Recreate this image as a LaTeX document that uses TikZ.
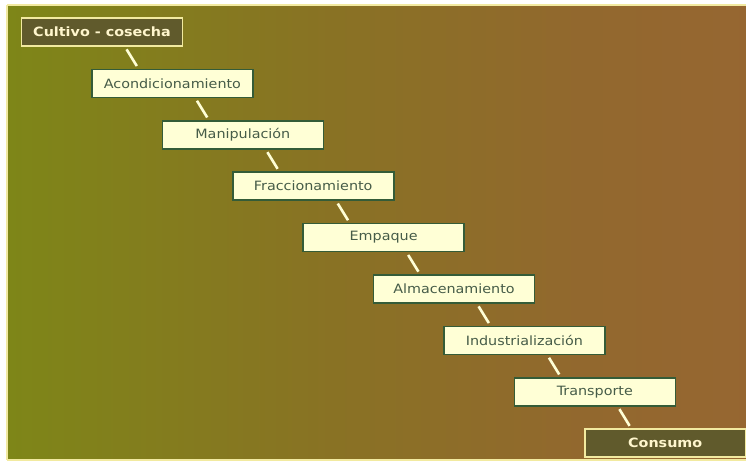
\documentclass[tikz,border=0pt]{standalone}
\usepackage{fontspec}
\setmainfont{DejaVu Sans}[FakeStretch=1.12]

\definecolor{olivo}{RGB}{110,150,10}
\definecolor{oliva}{RGB}{126,134,24}
\definecolor{medio}{RGB}{137,114,36}
\definecolor{ocre}{RGB}{146,104,46}
\definecolor{tierra}{RGB}{154,101,52}
\definecolor{crema}{RGB}{255,255,214}
\definecolor{bordeverde}{RGB}{52,92,56}
\definecolor{textoverde}{RGB}{70,92,72}
\definecolor{oscuro}{RGB}{96,90,44}
\definecolor{bordeclaro}{RGB}{242,234,160}
\definecolor{textoclaro}{RGB}{255,246,205}

\pgfdeclarehorizontalshading{campo}{100bp}{color(0bp)=(olivo); color(25bp)=(oliva); color(47bp)=(medio); color(64bp)=(ocre); color(85bp)=(tierra); color(100bp)=(tierra)}

\tikzset{
  etapa/.style={draw=bordeverde, line width=1.6pt, fill=crema, text=textoverde,
    minimum width=161pt, minimum height=28pt, inner sep=0pt,
    font=\fontsize{12.8}{14}\selectfont},
  extremo/.style={etapa, draw=bordeclaro, fill=oscuro, text=textoclaro,
    font=\fontsize{12.8}{14}\selectfont\bfseries},
  enlace/.style={draw=crema, line width=2.6pt, shorten <=3pt, shorten >=3pt}
}

\begin{document}
\begin{tikzpicture}[x=1pt, y=-1pt]
   %% fondo con degradado de verde a marron
   \fill[white] (0,0) rectangle (746,465);
   \useasboundingbox (0,0) rectangle (746,465);
   \shade[shading=campo] (7,5) rectangle (746,460);
   \draw[bordeclaro, line width=1.2pt] (7,5) -- (7,460);
   \draw[bordeclaro, line width=1.2pt] (7,5) -- (746,5);
   \draw[bordeclaro, line width=1.2pt] (7,460) -- (746,460);

   %% etapas en escalera
   \foreach \n/\s/\t [count=\i from 0] in
   { cultivo/extremo/Cultivo - cosecha,
     acond/etapa/Acondicionamiento,
     manip/etapa/Manipulación,
     fracc/etapa/Fraccionamiento,
     empaque/etapa/Empaque,
     almac/etapa/Almacenamiento,
     indus/etapa/Industrialización,
     transp/etapa/Transporte,
     consumo/extremo/Consumo}
   {
       \node[\s] (\n) at (102+70.4*\i, 32+51.4*\i) {\t};
   };

   \foreach \a/\b in
   { cultivo/acond, acond/manip, manip/fracc, fracc/empaque,
     empaque/almac, almac/indus, indus/transp, transp/consumo}
   {
       \draw[enlace] ([xshift=23pt]\a.south) -- ([xshift=-34pt]\b.north);
   };

\end{tikzpicture}
\end{document}
